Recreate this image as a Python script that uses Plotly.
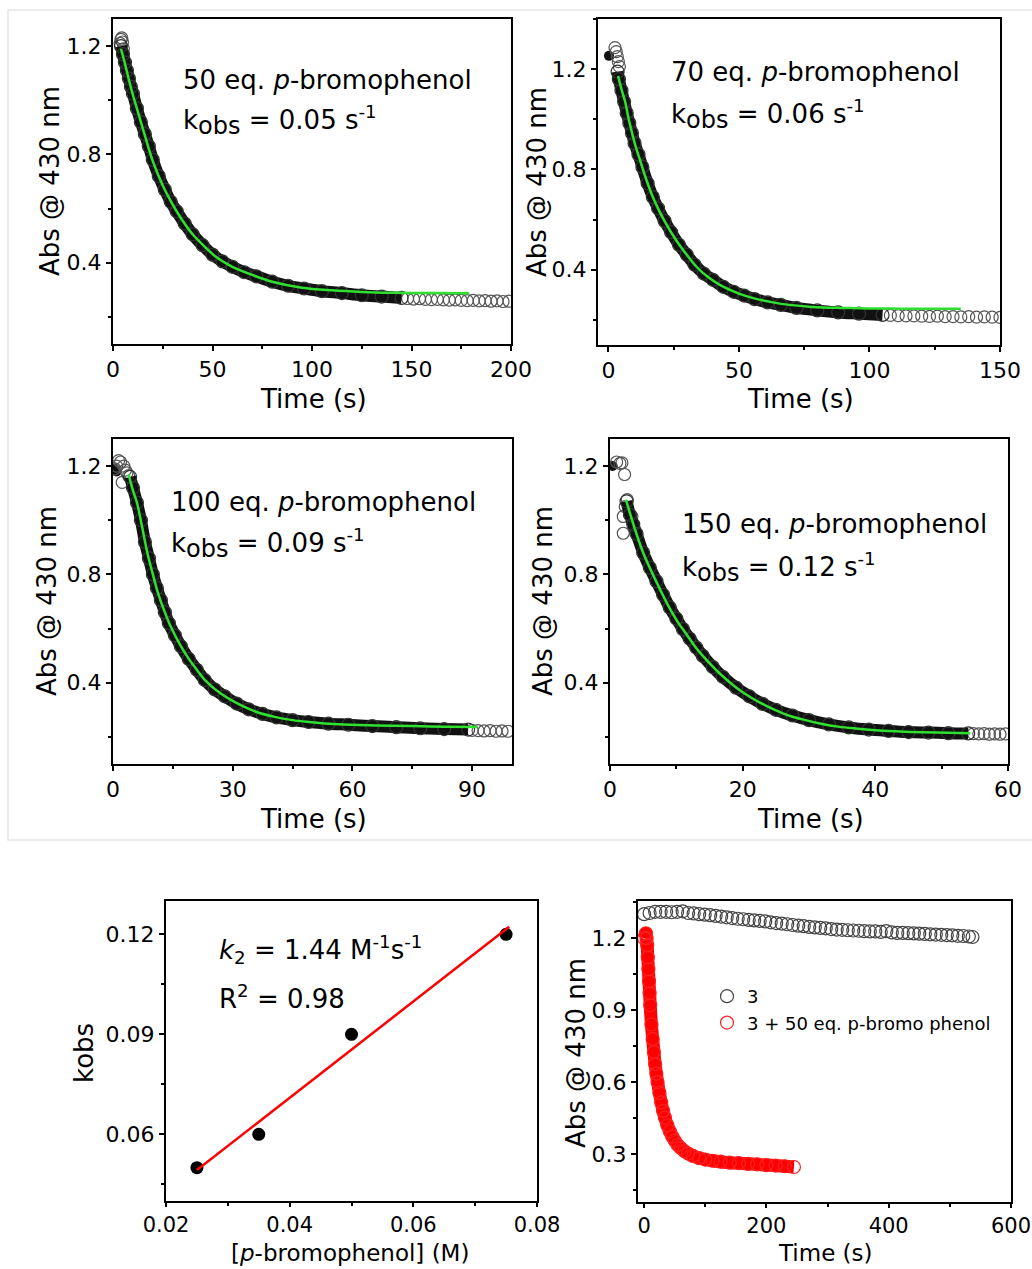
import plotly.graph_objects as go

W, H = 1032, 1269
FONT = "DejaVu Sans"

# ---------------- Panel 1: 50 eq. p-bromophenol ----------------
p1_early_t = [3.6, 4.0, 4.4, 4.8, 5.2]
p1_early_a = [1.21, 1.225, 1.23, 1.215, 1.19]
p1_t = [4, 5, 6, 7, 8, 9, 10, 12, 14, 16, 18, 20, 23, 26, 29, 32, 36, 40, 45, 50,
        55, 60, 66, 72, 80, 88, 96, 105, 115, 125, 135, 145]
p1_a = [1.20, 1.17, 1.14, 1.11, 1.08, 1.05, 1.025, 0.97, 0.92, 0.875, 0.83, 0.78, 0.72,
        0.67, 0.625, 0.59, 0.545, 0.505, 0.465, 0.43, 0.405, 0.385, 0.365, 0.35, 0.33,
        0.315, 0.305, 0.295, 0.288, 0.28, 0.275, 0.27]
p1_tail_t = [148, 151, 154, 157, 160, 163, 166, 169, 172, 175, 178, 181, 184, 187, 190, 193, 196, 199]
p1_tail_a = [0.268, 0.266, 0.267, 0.265, 0.264, 0.265, 0.263, 0.262, 0.263, 0.261, 0.26,
             0.261, 0.259, 0.26, 0.258, 0.259, 0.257, 0.258]
p1_fit_t = [4, 6, 8, 10, 13, 16, 20, 25, 30, 35, 40, 46, 52, 60, 70, 80, 95, 110, 125, 140, 160, 179]
p1_fit_a = [1.19, 1.135, 1.075, 1.02, 0.945, 0.87, 0.775, 0.685, 0.615, 0.555, 0.505, 0.46,
            0.42, 0.385, 0.355, 0.33, 0.308, 0.298, 0.292, 0.289, 0.288, 0.287]

# ---------------- Panel 2: 70 eq. p-bromophenol ----------------
p2_first_t = [0.2]
p2_first_a = [1.253]
p2_early_t = [2.5, 3.0, 3.4, 3.8, 4.2]
p2_early_a = [1.286, 1.27, 1.25, 1.23, 1.21]
p2_t = [3.5, 4, 5, 6, 7, 8, 9, 10, 11.5, 13, 15, 17, 19, 21.5, 24, 27, 30, 33, 36.5, 40,
        44, 48, 52, 56, 61, 66, 72, 80, 88, 96, 105]
p2_a = [1.19, 1.16, 1.115, 1.07, 1.025, 0.985, 0.945, 0.905, 0.86, 0.81, 0.745, 0.69, 0.645,
        0.595, 0.55, 0.50, 0.46, 0.42, 0.385, 0.36, 0.332, 0.312, 0.297, 0.283, 0.27, 0.26,
        0.248, 0.238, 0.23, 0.225, 0.22]
p2_tail_t = [108, 111, 114, 117, 120, 123, 126, 129, 132, 135, 138, 141, 144, 147, 150]
p2_tail_a = [0.218, 0.217, 0.216, 0.216, 0.215, 0.214, 0.215, 0.213, 0.213, 0.212, 0.213,
             0.211, 0.212, 0.211, 0.21]
p2_fit_t = [3.7, 5, 6.3, 8, 10.2, 12, 14.2, 17, 19.4, 22, 26, 30, 33.9, 38, 43, 50, 56.2, 63,
            69.3, 78, 89, 100, 112, 124, 135]
p2_fit_a = [1.173, 1.12, 1.074, 0.99, 0.90, 0.84, 0.769, 0.69, 0.636, 0.585, 0.517, 0.46,
            0.41, 0.372, 0.338, 0.305, 0.285, 0.27, 0.26, 0.252, 0.248, 0.246, 0.245, 0.245, 0.245]

# ---------------- Panel 3: 100 eq. p-bromophenol ----------------
p3_first_t = [0.3, 0.9]
p3_first_a = [1.19, 1.18]
p3_early_t = [0.4, 0.9, 1.4, 1.9, 2.3, 2.7, 3.1, 3.5, 3.9]
p3_early_a = [1.19, 1.2, 1.22, 1.215, 1.14, 1.2, 1.185, 1.175, 1.165]
p3_t = [4.3, 5, 6, 7, 8, 9, 10, 11, 12, 13, 14, 15.5, 17, 19, 21, 23, 25.5, 28, 31, 34,
        37.5, 41, 45, 49, 54, 59, 65, 71, 77, 83, 89]
p3_a = [1.16, 1.12, 1.065, 1.0, 0.92, 0.86, 0.80, 0.75, 0.705, 0.66, 0.62, 0.575, 0.535,
        0.488, 0.448, 0.41, 0.375, 0.35, 0.323, 0.302, 0.285, 0.272, 0.262, 0.255, 0.249,
        0.245, 0.24, 0.236, 0.232, 0.229, 0.227]
p3_tail_t = [90, 91.5, 93, 94.5, 96, 97.5, 99]
p3_tail_a = [0.224, 0.223, 0.222, 0.223, 0.221, 0.222, 0.221]
p3_fit_t = [3.9, 5, 6, 7.3, 8.6, 10, 11.2, 13, 14.7, 17, 19, 21, 23.3, 27, 31.9, 36, 40.5,
            45, 49.1, 53, 57.8, 66, 75, 83, 91.4]
p3_fit_a = [1.17, 1.11, 1.065, 0.975, 0.88, 0.80, 0.735, 0.66, 0.6, 0.535, 0.488, 0.448,
            0.406, 0.36, 0.318, 0.292, 0.274, 0.262, 0.255, 0.25, 0.246, 0.242, 0.24, 0.238, 0.237]

# ---------------- Panel 4: 150 eq. p-bromophenol ----------------
p4_first_t = [0.4]
p4_first_a = [1.2]
p4_early_t = [1.0, 1.5, 1.8, 2.2, 2.0, 2.0, 2.3, 2.6, 3.3]
p4_early_a = [1.215, 1.21, 1.212, 1.169, 1.014, 0.952, 1.05, 1.076, 1.014]
p4_t = [2.5, 3, 3.5, 4, 5, 6, 7, 8, 9, 10, 11, 12, 13, 14, 15.5, 17, 19, 21, 23, 25, 27.5,
        30, 33, 36, 39, 42, 45, 48, 51, 54]
p4_a = [1.07, 1.02, 0.985, 0.95, 0.88, 0.825, 0.775, 0.725, 0.678, 0.637, 0.598, 0.563,
        0.53, 0.499, 0.458, 0.422, 0.382, 0.35, 0.322, 0.30, 0.279, 0.262, 0.246, 0.235,
        0.227, 0.222, 0.218, 0.216, 0.214, 0.213]
p4_tail_t = [54.8, 55.6, 56.4, 57.2, 58, 58.8, 59.6]
p4_tail_a = [0.212, 0.211, 0.212, 0.21, 0.211, 0.21, 0.211]
p4_fit_t = [2.4, 3.8, 5, 6.4, 7.6, 8.9, 10.2, 11.5, 12.7, 14, 16.5, 19.1, 21.5, 24.2, 26.7,
            29.3, 31.8, 34.4, 37, 39.5, 43, 47.2, 51, 54.3]
p4_fit_a = [1.076, 0.964, 0.88, 0.803, 0.742, 0.679, 0.625, 0.58, 0.538, 0.499, 0.435, 0.381,
            0.342, 0.307, 0.281, 0.263, 0.249, 0.238, 0.231, 0.226, 0.221, 0.217, 0.215, 0.214]

# ---------------- Panel 5: kobs vs [p-bromophenol] ----------------
conc = [0.025, 0.035, 0.05, 0.075]
kobs = [0.05, 0.06, 0.09, 0.12]
fit_x_range = [0.025, 0.0755]

# ---------------- Panel 6: 3 alone vs 3 + 50 eq. ----------------
c3_t = [0, 9, 18, 27, 36, 45, 54, 63, 72, 81, 90, 99, 108, 117, 126, 135, 144, 153, 162, 171,
        180, 189, 198, 207, 216, 225, 234, 243, 252, 261, 270, 279, 288, 297, 306, 315, 324,
        333, 342, 351, 360, 369, 378, 387, 396, 405, 414, 423, 432, 441, 450, 459, 468, 477,
        486, 495, 504, 513, 522, 531, 537]
c3_a = [1.300, 1.305, 1.31, 1.31, 1.31, 1.308, 1.31, 1.312, 1.305, 1.303, 1.30, 1.298, 1.296,
        1.293, 1.29, 1.287, 1.284, 1.281, 1.279, 1.276, 1.274, 1.272, 1.27, 1.266, 1.263,
        1.261, 1.258, 1.255, 1.252, 1.25, 1.247, 1.245, 1.243, 1.241, 1.238, 1.236, 1.235,
        1.233, 1.232, 1.231, 1.229, 1.228, 1.228, 1.226, 1.229, 1.224, 1.222, 1.222, 1.221,
        1.22, 1.219, 1.218, 1.216, 1.215, 1.214, 1.213, 1.212, 1.21, 1.209, 1.207, 1.205]
c3pb_t = [0, 3, 4, 5, 6, 7, 8, 9, 10, 12, 14, 16, 18, 20, 22, 25, 28, 31, 34, 38, 42, 46, 50,
          55, 60, 66, 72, 80, 90, 100, 112, 125, 140, 155, 170, 185, 200, 215, 230, 245]
c3pb_a = [1.2, 1.22, 1.2, 1.17, 1.12, 1.07, 1.02, 0.97, 0.92, 0.84, 0.78, 0.725, 0.675, 0.635,
          0.6, 0.555, 0.515, 0.48, 0.452, 0.42, 0.395, 0.373, 0.356, 0.338, 0.325, 0.312,
          0.302, 0.292, 0.283, 0.277, 0.272, 0.268, 0.264, 0.262, 0.259, 0.257, 0.254, 0.252,
          0.249, 0.246]

# ---------------- Layout geometry (pixel boxes) ----------------
boxes = {
    1: (113, 511, 19, 344),
    2: (598, 1000, 19, 345),
    3: (113, 512, 439, 764),
    4: (610, 1008, 439, 764),
    5: (166, 537, 901, 1201),
    6: (638, 1011, 901, 1202),
}
axis_cfg = {
    1: dict(xr=[0, 200], xd=50, xm=25, yr=[0.1, 1.3], yd=0.4, y0=0.4, ym=0.2, yf=".1f", xf=""),
    2: dict(xr=[-4, 150], xd=50, xm=25, yr=[0.1, 1.4], yd=0.4, y0=0.4, ym=0.2, yf=".1f", xf=""),
    3: dict(xr=[0, 100], xd=30, xm=15, yr=[0.1, 1.3], yd=0.4, y0=0.4, ym=0.2, yf=".1f", xf=""),
    4: dict(xr=[0, 60], xd=20, xm=10, yr=[0.1, 1.3], yd=0.4, y0=0.4, ym=0.2, yf=".1f", xf=""),
    5: dict(xr=[0.02, 0.08], xd=0.02, xm=0.01, yr=[0.04, 0.13], yd=0.03, y0=0.06, ym=0.015,
            yf=".2f", xf=".2f"),
    6: dict(xr=[-10, 600], xd=200, xm=100, yr=[0.1, 1.355], yd=0.3, y0=0.3, ym=0.15,
            yf=".1f", xf=""),
}

fig = go.Figure()
layout = dict(
    width=W, height=H, margin=dict(l=0, r=0, t=0, b=0, autoexpand=False),
    paper_bgcolor="white", plot_bgcolor="white",
    font=dict(family=FONT, color="black"),
    showlegend=True,
)


def base_axis(size=22, ticklen=5):
    return dict(
        showline=True, linecolor="black", linewidth=2, mirror=True,
        ticks="outside", ticklen=ticklen, tickwidth=2, tickcolor="black",
        showgrid=False, zeroline=False, automargin=False,
        tickfont=dict(family=FONT, size=size, color="black"),
    )


for i, (x0, x1, y0, y1) in boxes.items():
    c = axis_cfg[i]
    s = "" if i == 1 else str(i)
    bottom_row = i >= 5
    xa = base_axis(21 if bottom_row else 22, 4 if bottom_row else 5)
    xa.update(domain=[x0 / W, x1 / W], anchor="y" + s, range=c["xr"], dtick=c["xd"], tick0=0,
              tickformat=c["xf"],
              minor=dict(ticks="outside", ticklen=3, tickwidth=2, tickcolor="black", dtick=c["xm"]))
    ya = base_axis()
    ya.update(domain=[1 - y1 / H, 1 - y0 / H], anchor="x" + s, range=c["yr"], dtick=c["yd"],
              tick0=c["y0"], tickformat=c["yf"],
              minor=dict(ticks="outside", ticklen=3, tickwidth=2, tickcolor="black", dtick=c["ym"]))
    layout["xaxis" + s] = xa
    layout["yaxis" + s] = ya

GREEN = "#2fe02f"


def kinetic_panel(i, t, a, tail_t, tail_a, fit_t, fit_a, early_t, early_a, first_t=None, first_a=None):
    s = "" if i == 1 else str(i)
    ax = dict(xaxis="x" + s, yaxis="y" + s, showlegend=False, hoverinfo="skip")
    if first_t:
        fig.add_trace(go.Scatter(x=first_t, y=first_a, mode="markers",
                                 marker=dict(symbol="circle", size=10, color="#111"), **ax))
    fig.add_trace(go.Scatter(x=early_t, y=early_a, mode="markers",
                             marker=dict(symbol="circle-open", size=12, color="#555",
                                         line=dict(width=1.2)), **ax))
    fig.add_trace(go.Scatter(x=tail_t, y=tail_a, mode="markers",
                             marker=dict(symbol="circle-open", size=12, color="#555",
                                         line=dict(width=1.2)), **ax))
    fig.add_trace(go.Scatter(x=t, y=a, mode="lines+markers",
                             line=dict(color="#111", width=12, shape="spline"),
                             marker=dict(symbol="circle-open", size=13, color="#333",
                                         line=dict(width=1.2)), **ax))
    fig.add_trace(go.Scatter(x=fit_t, y=fit_a, mode="lines",
                             line=dict(color=GREEN, width=2.5, shape="spline"), **ax))


kinetic_panel(1, p1_t, p1_a, p1_tail_t, p1_tail_a, p1_fit_t, p1_fit_a, p1_early_t, p1_early_a)
kinetic_panel(2, p2_t, p2_a, p2_tail_t, p2_tail_a, p2_fit_t, p2_fit_a, p2_early_t, p2_early_a,
              p2_first_t, p2_first_a)
kinetic_panel(3, p3_t, p3_a, p3_tail_t, p3_tail_a, p3_fit_t, p3_fit_a, p3_early_t, p3_early_a,
              p3_first_t, p3_first_a)
kinetic_panel(4, p4_t, p4_a, p4_tail_t, p4_tail_a, p4_fit_t, p4_fit_a, p4_early_t, p4_early_a,
              p4_first_t, p4_first_a)

# Panel 5: linear fit of kobs against concentration (slope = k2)
n = len(conc)
mx = sum(conc) / n
my = sum(kobs) / n
sxy = sum((x - mx) * (y - my) for x, y in zip(conc, kobs))
sxx = sum((x - mx) ** 2 for x in conc)
slope = sxy / sxx
icpt = my - slope * mx
fit_y = [slope * x + icpt for x in fit_x_range]

fig.add_trace(go.Scatter(x=conc, y=kobs, mode="markers", xaxis="x5", yaxis="y5",
                         marker=dict(symbol="circle", size=13, color="black"),
                         showlegend=False, hoverinfo="skip"))
fig.add_trace(go.Scatter(x=fit_x_range, y=fit_y, mode="lines", xaxis="x5", yaxis="y5",
                         line=dict(color="#ff0000", width=2.5), showlegend=False, hoverinfo="skip"))

# Panel 6: decay of 3 with and without substrate
fig.add_trace(go.Scatter(x=c3_t, y=c3_a, mode="markers", xaxis="x6", yaxis="y6", name="3",
                         marker=dict(symbol="circle-open", size=13, color="#444",
                                     line=dict(width=1.2)), hoverinfo="skip"))
fig.add_trace(go.Scatter(x=c3pb_t, y=c3pb_a, mode="lines", xaxis="x6", yaxis="y6",
                         line=dict(color="#ff0000", width=13, shape="spline"),
                         showlegend=False, hoverinfo="skip"))
fig.add_trace(go.Scatter(x=c3pb_t, y=c3pb_a, mode="markers", xaxis="x6", yaxis="y6",
                         name="3 + 50 eq. p-bromo phenol",
                         marker=dict(symbol="circle-open", size=13, color="#ff2020",
                                     line=dict(width=1.2)), hoverinfo="skip"))

layout["legend"] = dict(x=707 / W, y=1 - 978 / H, xanchor="left", yanchor="top",
                        font=dict(family=FONT, size=18, color="black"),
                        bgcolor="rgba(0,0,0,0)", tracegroupgap=0)

# ---------------- Text ----------------
ann = []


def text(t, x, y, size=26, angle=0, xanchor="left"):
    ann.append(dict(text=t, x=x / W, y=1 - y / H, xref="paper", yref="paper",
                    showarrow=False, xanchor=xanchor, yanchor="middle", textangle=angle,
                    font=dict(family=FONT, size=size, color="black")))


ABS = "Abs @ 430 nm"
TIME = "Time (s)"
# axis titles
for (xt, yt), (xy, yy) in [((313, 399), (50, 181)), ((800, 399), (537, 182)),
                           ((313, 819), (47, 601)), ((810, 819), (543, 601)),
                           ((825, 1253), (576, 1053))]:
    text(TIME, xt, yt, 23 if yt > 1000 else 26, xanchor="center")
    text(ABS, xy, yy, 26, angle=-90, xanchor="center")
text("[<i>p</i>-bromophenol] (M)", 350, 1253, 23, xanchor="center")
text("kobs", 84, 1053, 26, angle=-90, xanchor="center")

KSUB = '<sub><span style="font-size:24px">obs</span></sub>'
panel_labels = [
    ("50", "0.05", 181, 80, 120),
    ("70", "0.06", 669, 72, 114),
    ("100", "0.09", 169, 502, 544),
    ("150", "0.12", 680, 524, 567),
]
for eq, k, x, y1, y2 in panel_labels:
    text(f"{eq} eq. <i>p</i>-bromophenol", x, y1, 26)
    text(f"k{KSUB} = {k} s<sup>-1</sup>", x, y2, 26)

text("<i>k</i><sub>2</sub> = 1.44 M<sup>-1</sup>s<sup>-1</sup>", 217, 949, 26)
text("R<sup>2</sup> = 0.98", 217, 997, 26)

layout["annotations"] = ann
layout["shapes"] = [dict(type="rect", xref="paper", yref="paper",
                         x0=8 / W, x1=1.02, y0=1 - 840 / H, y1=1 - 10 / H,
                         line=dict(color="#e6e6e6", width=1.5), fillcolor="rgba(0,0,0,0)",
                         layer="below")]

fig.update_layout(**layout)
fig.write_html("out.html")
